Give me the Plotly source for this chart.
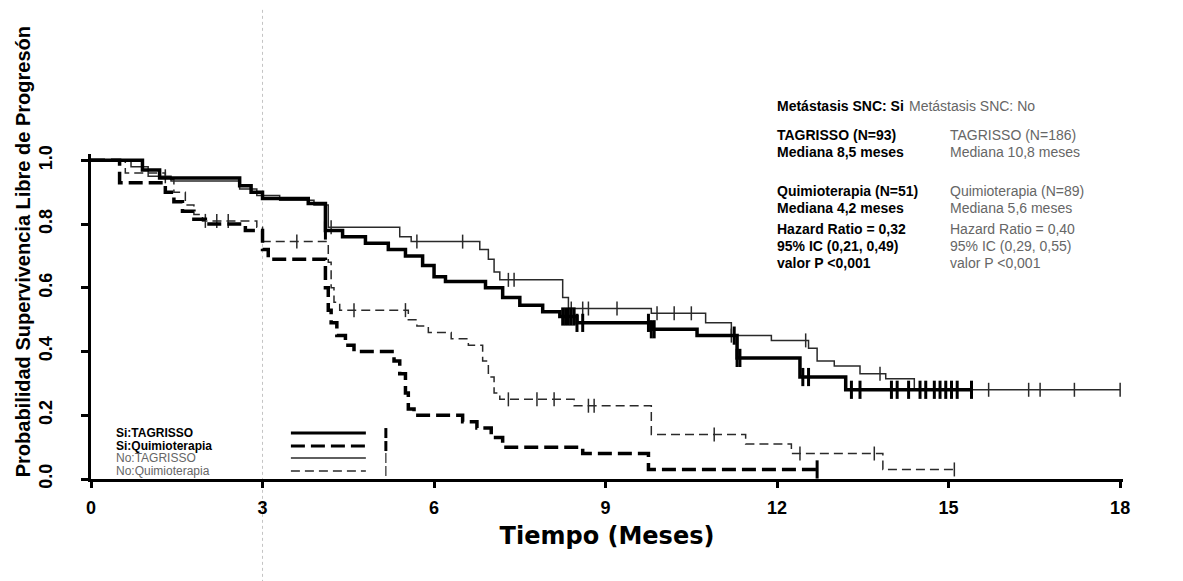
import plotly.graph_objects as go

# ---------------- data ----------------
si_tag_t = [0, 0.9, 1.2, 2.6, 2.8, 3.0, 3.8, 4.1, 4.4, 4.8, 5.2, 5.5, 5.8, 6.0, 6.2, 6.9, 7.2, 7.5,
            7.9, 8.2, 8.5, 9.8, 10.6, 11.3, 12.4, 13.2, 15.4]
si_tag_s = [1.0, 0.97, 0.945, 0.92, 0.90, 0.88, 0.865, 0.78, 0.76, 0.74, 0.72, 0.70, 0.67, 0.635, 0.62,
            0.60, 0.57, 0.545, 0.525, 0.51, 0.49, 0.47, 0.45, 0.38, 0.32, 0.28, 0.28]

no_tag_t = [0, 0.7, 1.0, 1.4, 2.6, 2.9, 3.3, 3.9, 4.15, 5.4, 5.6, 6.8, 6.95, 7.05, 7.15, 8.25, 8.35,
            9.8, 10.75, 11.2, 11.9, 12.55, 12.7, 13.0, 13.45, 13.9, 14.4, 18.0]
no_tag_s = [1.0, 0.98, 0.95, 0.935, 0.91, 0.89, 0.875, 0.86, 0.79, 0.76, 0.745, 0.72, 0.69, 0.65,
            0.625, 0.57, 0.535, 0.52, 0.49, 0.45, 0.435, 0.41, 0.37, 0.355, 0.33, 0.315, 0.28, 0.28]

si_qt_t = [0, 0.5, 1.3, 1.45, 1.6, 1.8, 2.0, 2.7, 3.0, 3.1, 4.1, 4.15, 4.2, 4.3, 4.45, 4.6, 5.3, 5.4,
           5.5, 5.55, 5.65, 6.5, 6.75, 7.0, 7.2, 8.6, 9.75, 12.7]
si_qt_s = [1.0, 0.93, 0.90, 0.87, 0.84, 0.815, 0.80, 0.78, 0.72, 0.69, 0.60, 0.53, 0.49, 0.45, 0.42,
           0.40, 0.37, 0.33, 0.27, 0.22, 0.20, 0.18, 0.16, 0.13, 0.10, 0.08, 0.03, 0.03]

no_qt_t = [0, 0.6, 1.3, 1.45, 1.65, 1.8, 1.95, 2.9, 3.0, 4.15, 4.2, 4.25, 4.35, 5.55, 5.7, 5.9, 6.3,
           6.6, 6.85, 6.95, 7.05, 7.15, 8.45, 9.8, 11.45, 12.25, 13.85, 15.1]
no_qt_s = [1.0, 0.96, 0.94, 0.90, 0.86, 0.83, 0.81, 0.79, 0.745, 0.68, 0.60, 0.555, 0.53, 0.50, 0.48,
           0.46, 0.44, 0.42, 0.37, 0.32, 0.27, 0.25, 0.23, 0.14, 0.11, 0.08, 0.03, 0.03]

# censoring times
si_tag_c = [4.1, 8.25, 8.3, 8.35, 8.4, 8.45, 8.5, 8.6, 9.75, 9.8, 9.85, 11.25, 11.3, 11.35, 12.45,
            12.55, 13.3, 13.45, 14.0, 14.1, 14.3, 14.5, 14.6, 14.75, 14.85, 14.95, 15.05, 15.15, 15.4]
no_tag_c = [1.3, 4.2, 5.7, 6.5, 7.3, 7.4, 8.4, 8.6, 8.7, 9.2, 9.9, 10.2, 10.5, 11.2, 12.5, 13.8,
            15.7, 16.4, 16.6, 17.2, 18.0]
si_qt_c = [12.7]
no_qt_c = [2.0, 2.2, 2.4, 3.6, 4.6, 5.5, 7.3, 7.8, 8.1, 8.7, 8.8, 10.9, 12.4, 13.7, 15.1]

x_ticks = [0, 3, 6, 9, 12, 15, 18]
x_ticktext = ["0", "3", "6", "9", "12", "15", "18"]
y_ticks = [0.0, 0.2, 0.4, 0.6, 0.8, 1.0]
y_ticktext = ["0.0", "0.2", "0.4", "0.6", "0.8", "1.0"]

legend_labels = ["Si:TAGRISSO", "Si:Quimioterapia", "No:TAGRISSO", "No:Quimioterapia"]

col1_lines = ["TAGRISSO (N=93)", "Mediana 8,5 meses", "Quimioterapia (N=51)", "Mediana 4,2 meses",
              "Hazard Ratio = 0,32", "95% IC (0,21, 0,49)", "valor P <0,001"]
col2_lines = ["TAGRISSO (N=186)", "Mediana 10,8 meses", "Quimioterapia (N=89)", "Mediana 5,6 meses",
              "Hazard Ratio = 0,40", "95% IC (0,29, 0,55)", "valor P <0,001"]
header1 = "Metástasis SNC: Si"
header2 = "Metástasis SNC: No"

# ---------------- figure geometry (pixels) ----------------
W_FIG, H_FIG = 1183, 581
Y_TOP_VAL = 152.0   # pixel row of survival 1.0
Y_ZERO = 471.0      # pixel row of survival 0.0
Y_MAX = 1.02
L, R = 83, 67.5
B = H_FIG - Y_ZERO
T = Y_ZERO - Y_MAX * (Y_ZERO - Y_TOP_VAL)
PW = W_FIG - L - R
PH = H_FIG - T - B


def px(X):
    return (X - L) / PW


def py(Y):
    return (H_FIG - B - Y) / PH


def step_value(ts, ss, t):
    v = ss[0]
    for ti, si in zip(ts, ss):
        if ti <= t:
            v = si
        else:
            break
    return v


FONT = "Liberation Sans, Arial, sans-serif"
WIDE = "DejaVu Sans, Liberation Sans, sans-serif"
GRAY = "#666666"

styles = {
    "no_tag": dict(color="#2a2a2a", width=1.5, dash="solid"),
    "no_qt": dict(color="#2a2a2a", width=1.5, dash="9px,5px"),
    "si_tag": dict(color="black", width=3.5, dash="solid"),
    "si_qt": dict(color="black", width=3.5, dash="14px,6px"),
}

series = [
    ("No:TAGRISSO", no_tag_t, no_tag_s, no_tag_c, "no_tag"),
    ("No:Quimioterapia", no_qt_t, no_qt_s, no_qt_c, "no_qt"),
    ("Si:TAGRISSO", si_tag_t, si_tag_s, si_tag_c, "si_tag"),
    ("Si:Quimioterapia", si_qt_t, si_qt_s, si_qt_c, "si_qt"),
]

fig = go.Figure()

for name, ts, ss, cs, key in series:
    st = styles[key]
    fig.add_trace(go.Scatter(x=ts, y=ss, mode="lines", name=name, line_shape="hv",
                             line=dict(color=st["color"], width=st["width"], dash=st["dash"]),
                             showlegend=False, hoverinfo="skip"))
    thick = key.startswith("si")
    fig.add_trace(go.Scatter(x=cs, y=[step_value(ts, ss, c) for c in cs], mode="markers",
                             name=name + " censurado", showlegend=False, hoverinfo="skip",
                             marker=dict(symbol="line-ns-open", size=13 if thick else 10,
                                         color=st["color"],
                                         line=dict(color=st["color"], width=3 if thick else 1.5))))

annotations = []
# y-axis title
annotations.append(dict(text="Probabilidad Supervivencia Libre de Progresón", xref="paper", yref="paper",
                        x=px(15), y=py(244), textangle=-90, showarrow=False, xanchor="center",
                        yanchor="middle", font=dict(family=FONT, size=20, color="black", weight="bold")))

# right-hand text block
annotations.append(dict(text=header1, xref="paper", yref="paper", x=px(767), y=py(98), showarrow=False,
                        xanchor="left", yanchor="middle",
                        font=dict(family=FONT, size=14, color="black", weight="bold")))
annotations.append(dict(text=header2, xref="paper", yref="paper", x=px(899), y=py(98), showarrow=False,
                        xanchor="left", yanchor="middle", font=dict(family=FONT, size=14, color=GRAY)))
row_y = [127, 144, 183, 200, 221, 238, 255]
for txt1, txt2, yy in zip(col1_lines, col2_lines, row_y):
    annotations.append(dict(text=txt1, xref="paper", yref="paper", x=px(767), y=py(yy), showarrow=False,
                            xanchor="left", yanchor="middle",
                            font=dict(family=FONT, size=14, color="black", weight="bold")))
    annotations.append(dict(text=txt2, xref="paper", yref="paper", x=px(940), y=py(yy), showarrow=False,
                            xanchor="left", yanchor="middle", font=dict(family=FONT, size=14, color=GRAY)))

# custom legend: text left, line sample, censor tick
shapes = []
leg_y = [425, 438, 450, 463]
leg_keys = ["si_tag", "si_qt", "no_tag", "no_qt"]
for lab, key, yy in zip(legend_labels, leg_keys, leg_y):
    st = styles[key]
    bold = key.startswith("si")
    annotations.append(dict(text=lab, xref="paper", yref="paper", x=px(106), y=py(yy), showarrow=False,
                            xanchor="left", yanchor="middle",
                            font=dict(family=FONT, size=12, color="black" if bold else GRAY,
                                      weight="bold" if bold else "normal")))
    shapes.append(dict(type="line", xref="paper", yref="paper", x0=px(283), x1=px(358), y0=py(yy),
                       y1=py(yy), line=dict(color=st["color"], width=3 if bold else 1.5,
                                            dash=st["dash"])))
    shapes.append(dict(type="line", xref="paper", yref="paper", x0=px(378), x1=px(378), y0=py(yy - 5),
                       y1=py(yy + 5), line=dict(color=st["color"], width=3 if bold else 1.2)))

# faint scanner fold line
shapes.append(dict(type="line", xref="x", yref="paper", x0=3, x1=3, y0=py(581), y1=py(0),
                   line=dict(color="#c4c4c4", width=1, dash="dot"), layer="below"))

fig.update_layout(
    width=W_FIG, height=H_FIG,
    margin=dict(l=L, r=R, t=T, b=B),
    paper_bgcolor="white", plot_bgcolor="white",
    showlegend=False,
    font=dict(family=FONT, color="black"),
    annotations=annotations,
    shapes=shapes,
    xaxis=dict(range=[0, 18.05], tickmode="array", tickvals=x_ticks, ticktext=x_ticktext,
               ticks="outside", ticklen=6, tickwidth=2.5, tickcolor="black",
               showline=True, linewidth=3, linecolor="black", showgrid=False, zeroline=False,
               tickfont=dict(family=FONT, size=18, color="black", weight="bold"),
               ticklabelstandoff=4,
               title=dict(text="Tiempo (Meses)", standoff=11,
                          font=dict(family=WIDE, size=24, color="black", weight="bold"))),
    yaxis=dict(range=[0, Y_MAX], tickmode="array", tickvals=y_ticks, ticktext=y_ticktext,
               tickangle=-90, ticks="outside", ticklen=7, tickwidth=2.5, tickcolor="black",
               showline=True, linewidth=3, linecolor="black", showgrid=False, zeroline=False,
               tickfont=dict(family=FONT, size=18, color="black", weight="bold"),
               ticklabelstandoff=22),
)

fig.write_html("out.html")
